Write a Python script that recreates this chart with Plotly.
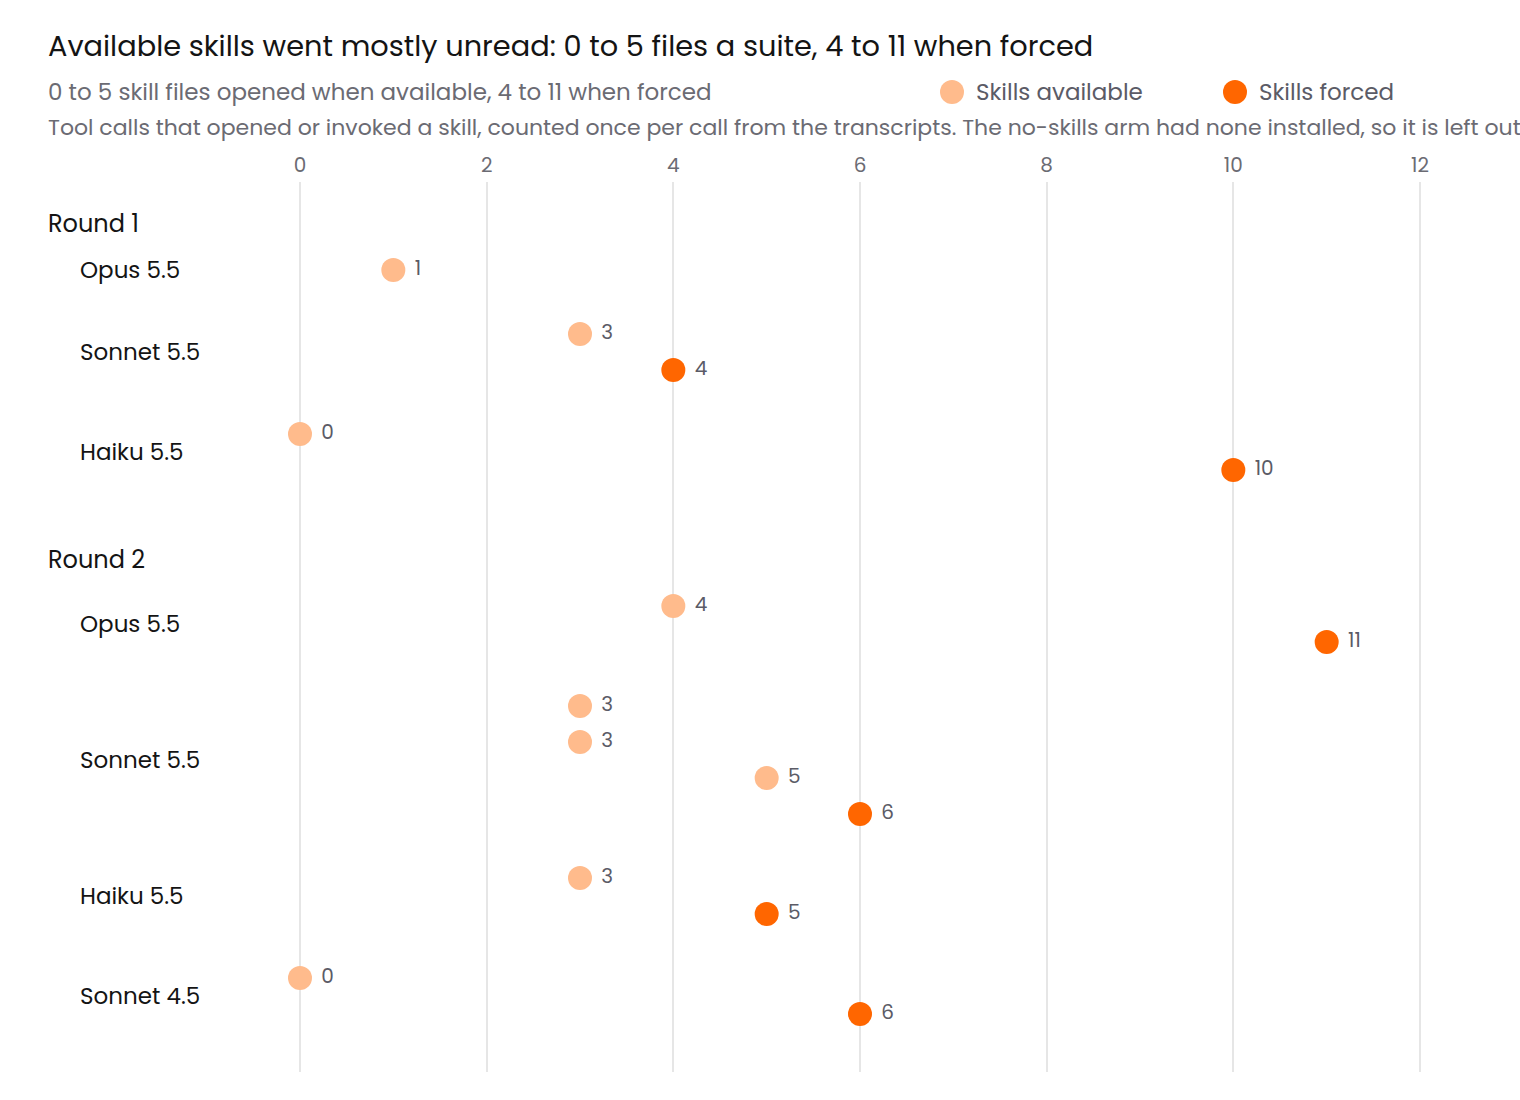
import plotly.graph_objects as go

# ---------------- data ----------------
title_text = "Available skills went mostly unread: 0 to 5 files a suite, 4 to 11 when forced"
subtitle_text = "0 to 5 skill files opened when available, 4 to 11 when forced"
note_text = ("Tool calls that opened or invoked a skill, counted once per call from the transcripts. "
             "The no-skills arm had none installed, so it is left out.")

point_round = ["Round 1", "Round 1", "Round 1", "Round 1", "Round 1",
               "Round 2", "Round 2", "Round 2", "Round 2", "Round 2", "Round 2",
               "Round 2", "Round 2", "Round 2", "Round 2"]
point_model = ["Opus 5.5", "Sonnet 5.5", "Sonnet 5.5", "Haiku 5.5", "Haiku 5.5",
               "Opus 5.5", "Opus 5.5", "Sonnet 5.5", "Sonnet 5.5", "Sonnet 5.5", "Sonnet 5.5",
               "Haiku 5.5", "Haiku 5.5", "Sonnet 4.5", "Sonnet 4.5"]
point_arm = ["Skills available", "Skills available", "Skills forced", "Skills available", "Skills forced",
             "Skills available", "Skills forced", "Skills available", "Skills available", "Skills available",
             "Skills forced", "Skills available", "Skills forced", "Skills available", "Skills forced"]
point_value = [1, 3, 4, 0, 10, 4, 11, 3, 3, 5, 6, 3, 5, 0, 6]

arms = ["Skills available", "Skills forced"]
arm_colors = {"Skills available": "#FFBB8C", "Skills forced": "#FF6600"}
x_ticks = [0, 2, 4, 6, 8, 10, 12]

# ---------------- layout helpers ----------------
ROW = 36
GROUP_GAP = 28
ROUND_GAP = 100
FONT = "Poppins, 'Open Sans', sans-serif"
TEXT_DARK = "#141414"
TEXT_GREY = "#6b6b73"

ys = []
y = 0
prev_round, prev_model = None, None
for r, m in zip(point_round, point_model):
    if prev_round is None:
        y = 0
    elif r != prev_round:
        y += ROW + ROUND_GAP
    elif m != prev_model:
        y += ROW + GROUP_GAP
    else:
        y += ROW
    ys.append(y)
    prev_round, prev_model = r, m

seen = {}
for r, m, yy in zip(point_round, point_model, ys):
    seen.setdefault((r, m), []).append(yy)
model_labels = [(m, sum(lst) / len(lst)) for (r, m), lst in seen.items()]
first_in_round = {}
for r, yy in zip(point_round, ys):
    first_in_round.setdefault(r, yy)
round_labels = [(r, yy - 47) for r, yy in first_in_round.items()]

W, H = 1520, 1100
ML, MR, MT, MB = 240, 0, 182, 28
PW = W - ML - MR
PH = H - MT - MB
PX_PER_UNIT = 1120 / 12


def px_x(px):
    return (px - ML) / PW


def px_y(py):
    return 1 - (py - MT) / PH


fig = go.Figure()
for arm in arms:
    xs = [v for v, a in zip(point_value, point_arm) if a == arm]
    yy = [p for p, a in zip(ys, point_arm) if a == arm]
    fig.add_trace(go.Scatter(
        x=xs, y=yy, mode="markers+text", name=arm,
        marker=dict(size=24, color=arm_colors[arm], line=dict(width=0)),
        text=[" " + str(v) for v in xs], textposition="middle right",
        textfont=dict(family=FONT, size=20, color="#5b5b66"),
        cliponaxis=False, showlegend=False,
    ))

annotations = []
shapes = []
for m, yy in model_labels:
    annotations.append(dict(x=px_x(78), xref="paper", y=yy, yref="y", text=m,
                            xanchor="left", yanchor="middle", showarrow=False,
                            font=dict(family=FONT, size=23, color=TEXT_DARK)))
for r, yy in round_labels:
    annotations.append(dict(x=px_x(46), xref="paper", y=yy, yref="y", text=r,
                            xanchor="left", yanchor="middle", showarrow=False,
                            font=dict(family=FONT, size=24, color=TEXT_DARK)))
annotations.append(dict(x=px_x(46), xref="paper", y=px_y(46), yref="paper", text=title_text,
                        xanchor="left", yanchor="middle", showarrow=False,
                        font=dict(family=FONT, size=28.8, color=TEXT_DARK)))
annotations.append(dict(x=px_x(46), xref="paper", y=px_y(92), yref="paper", text=subtitle_text,
                        xanchor="left", yanchor="middle", showarrow=False,
                        font=dict(family=FONT, size=23, color=TEXT_GREY)))
annotations.append(dict(x=px_x(46), xref="paper", y=px_y(128), yref="paper", text=note_text,
                        xanchor="left", yanchor="middle", showarrow=False,
                        font=dict(family=FONT, size=22, color=TEXT_GREY)))

# legend (symbols + labels)
legend_x = {"Skills available": 952, "Skills forced": 1235}
for arm in arms:
    cx = px_x(legend_x[arm])
    cy = px_y(92)
    shapes.append(dict(type="circle", xref="paper", yref="paper",
                       xsizemode="pixel", ysizemode="pixel",
                       xanchor=cx, yanchor=cy, x0=-12, x1=12, y0=-12, y1=12,
                       fillcolor=arm_colors[arm], line=dict(width=0)))
    annotations.append(dict(x=px_x(legend_x[arm] + 22), xref="paper", y=cy, yref="paper",
                            text=arm, xanchor="left", yanchor="middle", showarrow=False,
                            font=dict(family=FONT, size=23, color="#5b5b66")))

y_top = ys[0] - 88
y_bot = ys[-1] + 58
fig.update_layout(
    width=W, height=H,
    margin=dict(l=ML, r=MR, t=MT, b=MB, autoexpand=False),
    plot_bgcolor="white", paper_bgcolor="white",
    font=dict(family=FONT, color=TEXT_GREY),
    showlegend=False,
    annotations=annotations,
    shapes=shapes,
    xaxis=dict(range=[-60 / PX_PER_UNIT, (PW - 60) / PX_PER_UNIT], side="top",
               tickvals=x_ticks, ticktext=[str(t) for t in x_ticks],
               showgrid=True, gridcolor="#e6e6e6", gridwidth=2, zeroline=False,
               showline=False, ticks="", tickfont=dict(family=FONT, size=20, color=TEXT_GREY),
               ticklabelstandoff=5),
    yaxis=dict(range=[y_bot, y_top], showgrid=False, zeroline=False, showticklabels=False,
               showline=False, ticks=""),
)

fig.write_html("out.html")
